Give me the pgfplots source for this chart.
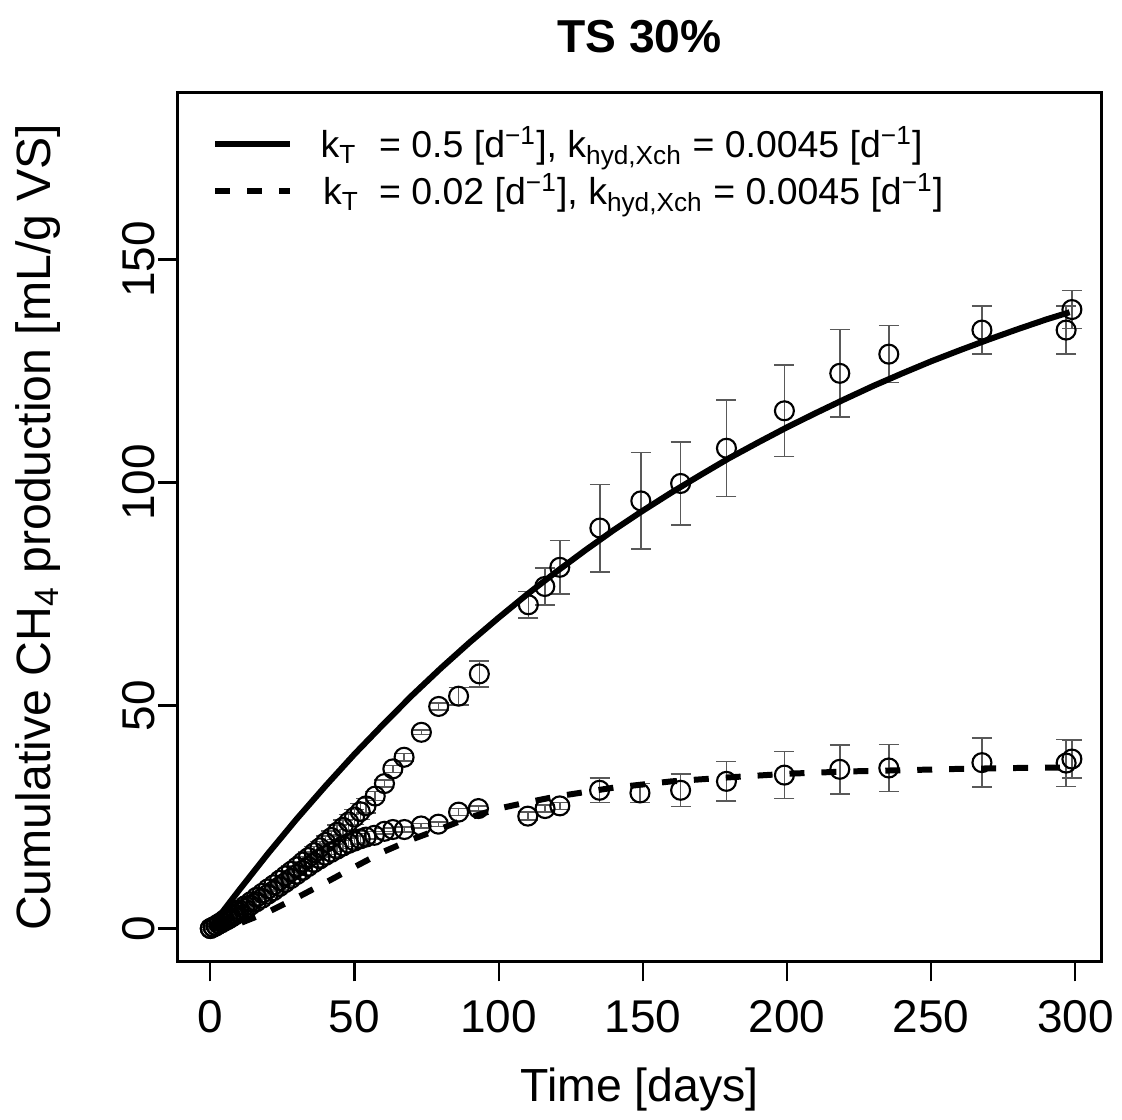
\documentclass[border=0pt]{standalone}
\usepackage{fontspec}
\setmainfont{Liberation Sans}
\usepackage{pgfplots}
\usepackage{pgfplotstable}
\pgfplotsset{compat=1.18}

\pgfplotstableread{
x y e
0 0 0.2
1 0.3 0.3
2 0.7 0.3
3 1.1 0.4
4 1.5 0.4
5 2.0 0.5
6 2.4 0.5
7 2.9 0.6
8 3.3 0.6
9 3.8 0.7
10 4.2 0.7
12 5.1 0.8
14 6.0 0.8
16 7.0 0.9
18 7.9 0.9
20 8.9 1.0
22 9.8 1.0
24 10.8 1.1
26 11.8 1.1
28 12.8 1.2
30 13.8 1.2
32 14.9 1.3
34 15.9 1.3
36 17.0 1.4
38 18.1 1.4
40 19.3 1.5
42 20.4 1.5
44 21.6 1.6
46 22.7 1.6
48 23.9 1.7
50 25.0 1.7
52 26.2 1.8
54 27.5 1.6
57.2 29.7 1.0
60.4 32.5 0.8
63.3 35.8 0.8
67.2 38.4 0.8
73.2 44.0 0.5
79.2 49.8 0.8
86.1 52.1 2.0
93.3 57.1 2.9
110.3 72.6 3.0
116.0 76.7 4.2
121.2 81.0 6.0
135.1 89.8 9.8
149.3 95.9 10.8
163.1 99.8 9.3
179.0 107.7 10.8
199.1 116.1 10.3
218.3 124.5 9.8
235.3 128.8 6.4
267.6 134.2 5.4
296.8 134.2 5.4
298.8 138.8 4.3
}\upperdata

\pgfplotstableread{
x y e
0 0 0.2
1 0.3 0.2
2 0.6 0.2
3 1.0 0.3
4 1.3 0.3
5 1.7 0.3
6 2.0 0.4
7 2.4 0.4
8 2.8 0.4
9 3.2 0.5
10 3.6 0.5
12 4.4 0.5
14 5.2 0.6
16 6.0 0.6
18 6.8 0.7
20 7.7 0.7
22 8.5 0.8
24 9.4 0.8
26 10.3 0.8
28 11.2 0.9
30 12.1 0.9
32 13.0 1.0
34 13.9 1.0
36 14.8 1.0
38 15.6 1.1
40 16.4 1.1
42 17.1 1.1
44 17.8 1.2
46 18.5 1.2
48 19.1 1.2
50 19.6 1.2
52 20.1 1.2
54 20.5 1.2
56.9 20.9 0.8
60.4 21.8 0.6
63.3 22.2 0.5
67.3 22.2 0.6
73.1 23.0 0.5
79.1 23.4 0.5
86.1 26.1 0.8
93.0 26.9 0.6
110.1 25.2 0.9
116.1 26.9 0.8
121.2 27.5 0.8
135.0 31.0 2.7
149.0 30.4 2.1
163.1 31.0 3.6
179.0 33.0 4.4
199.1 34.4 5.3
218.3 35.7 5.5
235.3 36.0 5.3
267.6 37.2 5.5
296.8 37.1 5.3
298.8 38.0 4.3
}\lowerdata

\begin{document}
\begin{tikzpicture}
\begin{axis}[
  name=ax,
  scale only axis, width=370pt, height=348pt,
  xmin=-11.3, xmax=309.0, ymin=-7.4, ymax=187.4,
  xtick={0,50,...,300}, ytick={0,50,100,150},
  tick align=outside, tick pos=left, major tick length=8pt,
  axis line style={line width=1.2pt},
  every tick/.style={black, line width=0.9pt},
  tick label style={font=\fontsize{18.4}{22}\selectfont},
  /pgf/number format/assume math mode=true,
  xticklabel style={yshift=-4pt},
  yticklabel style={rotate=90, anchor=south, inner sep=1pt},
  xlabel={Time [days]},
  ylabel={Cumulative CH\textsubscript{4} production [mL/g VS]},
  xlabel style={at={(axis description cs:0.5,-0.147)}, anchor=center, inner sep=0pt, font=\fontsize{18.6}{22}\selectfont},
  ylabel style={at={(axis description cs:-0.151,0.5)}, anchor=center, inner sep=0pt, font=\fontsize{19.3}{23}\selectfont},
  title={\textbf{TS 30\%}},
  title style={at={(axis description cs:0.5,1.048)}, anchor=center, inner sep=0pt, font=\fontsize{18.5}{22}\selectfont},
  legend style={at={(axis description cs:0.037,0.962)}, anchor=north west, draw=none, fill=none, inner sep=0pt, row sep=5pt,
    font=\fontsize{15}{18}\selectfont, nodes={inner sep=0pt},
    /tikz/every odd column/.append style={column sep=11pt}},
  legend cell align=left,
  legend image code/.code={\draw[#1] (0pt,0pt) -- (30pt,0pt);},
]
\addplot[only marks, mark=o, mark size=3.8pt, mark options={line width=0.85pt, black}, forget plot,
  error bars/.cd, y dir=both, y explicit,
  error bar style={line width=0.6pt, black!65},
  error mark options={rotate=90, mark size=4pt, line width=0.6pt, black!65}]
  table[x=x, y=y, y error=e] {\upperdata};
\addplot[only marks, mark=o, mark size=3.8pt, mark options={line width=0.85pt, black}, forget plot,
  error bars/.cd, y dir=both, y explicit,
  error bar style={line width=0.6pt, black!65},
  error mark options={rotate=90, mark size=4pt, line width=0.6pt, black!65}]
  table[x=x, y=y, y error=e] {\lowerdata};

\addplot[black, line width=2.4pt, no marks] coordinates {
(0,0) (2,1.76) (5,4.4) (10,8.6) (20,16.8) (30,24.6) (40,32.0) (50,39.1) (60,45.8) (70,52.3) (80,58.4) (90,64.2)
(100,69.7) (110,75.0) (120,80.0) (130,84.8) (140,89.4) (150,93.7) (160,97.8) (170,101.7) (180,105.5) (190,109.0)
(200,112.4) (210,115.6) (220,118.7) (230,121.7) (240,124.5) (250,127.2) (260,129.7) (270,132.1) (280,134.4) (290,136.6) (298,138.2)
};
\addlegendentry{k\textsubscript{T}\hspace{9pt}= 0.5 [d\textsuperscript{−1}], k\textsubscript{hyd,Xch} = 0.0045 [d\textsuperscript{−1}]}
\addplot[black, line width=2.4pt, no marks, dash pattern=on 6pt off 6.8pt] coordinates {
(0,0) (10,1.1) (20,3.7) (30,6.9) (40,10.3) (50,13.8) (60,17.2) (70,20.0) (80,22.4) (90,24.9) (100,26.9) (110,28.3)
(120,29.6) (130,30.6) (140,31.6) (160,33.0) (180,33.9) (200,34.7) (220,35.2) (240,35.5) (260,35.8) (280,36.0) (298,36.1)
};
\addlegendentry{\hspace{1pt}k\textsubscript{T}\hspace{8pt}= 0.02 [d\textsuperscript{−1}], k\textsubscript{hyd,Xch} = 0.0045 [d\textsuperscript{−1}]}
\end{axis}
\path ([xshift=-71.2pt,yshift=-63.2pt]ax.south west) rectangle ([xshift=7.6pt,yshift=37.2pt]ax.north east);
\end{tikzpicture}
\end{document}
